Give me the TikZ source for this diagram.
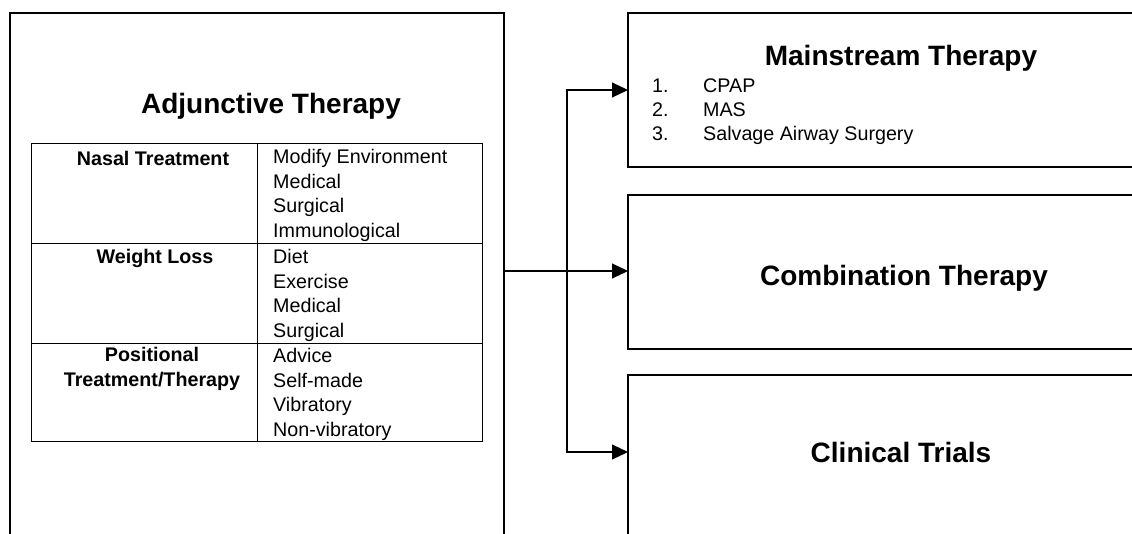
\documentclass[tikz,border=0pt]{standalone}
\usepackage{fontspec}
\setmainfont{Liberation Sans}
\usetikzlibrary{arrows.meta,positioning}

\tikzset{
  box/.style={draw, line width=2.4pt, inner sep=0pt, outer sep=0pt, anchor=north west},
  title/.style={font=\fontsize{28}{33}\selectfont\bfseries, inner sep=0pt, anchor=base},
  cell/.style={font=\fontsize{19.7}{24.4}\selectfont, inner sep=0pt, anchor=base west, align=left},
  head/.style={font=\fontsize{19.7}{24.4}\selectfont\bfseries, inner sep=0pt, anchor=base, align=center},
  grid/.style={line width=1pt},
  link/.style={line width=1.1pt, -{Triangle[length=16pt,width=15pt]}},
}

\begin{document}
\begin{tikzpicture}[x=1pt,y=-1pt]
  \useasboundingbox (0,0) rectangle (1132,533);
  \clip (0,0) rectangle (1132,533);

  % boxes, cut off by the page edge
  \node[box, minimum width=494pt, minimum height=600pt] (adjbox) at (10,13) {};
  \node[box, minimum width=548pt, minimum height=154pt] (mainbox) at (628,13) {};
  \node[box, minimum width=548pt, minimum height=154pt] (combbox) at (628,195) {};
  \node[box, minimum width=548pt, minimum height=200pt] (clinbox) at (628,375) {};

  % titles
  \node[title] (adjtitle) at (271,113) {Adjunctive Therapy};
  \node[title] (maintitle) at (901,65) {Mainstream Therapy};
  \node[title] (combtitle) at (904,285) {Combination Therapy};
  \node[title] (clintitle) at (901,462) {Clinical Trials};

  % multi-line nodes sit on the baseline of their last line
  \node[cell, font=\fontsize{19.7}{24}\selectfont] (mainlist) at (652,140) {\makebox[51pt][l]{1.}CPAP\\
    \makebox[51pt][l]{2.}MAS\\
    \makebox[51pt][l]{3.}Salvage Airway Surgery};

  % table
  \draw[grid] (31,143) rectangle (482,441);
  \draw[grid] (257,143) -- (257,441);
  \foreach \y in {243,343}
    \draw[grid] (31,\y) -- (482,\y);

  \node[head] (nasal) at (153,165) {Nasal Treatment};
  \node[head] (weight) at (155,263) {Weight Loss};
  \node[head] (position) at (152,386) {Positional\\Treatment/Therapy};

  \node[cell] (nasalitems) at (273,237) {Modify Environment\\Medical\\Surgical\\Immunological};
  \node[cell] (weightitems) at (273,337) {Diet\\Exercise\\Medical\\Surgical};
  \node[cell] (positems) at (273,436) {Advice\\Self-made\\Vibratory\\Non-vibratory};

  % arrows
  \coordinate (split) at (567,271);
  \draw[link] (split -| adjbox.east) -- (split -| combbox.west);
  \draw[link] (split) |- (mainbox.west);
  \draw[link] (split) |- ([yshift=-77pt]clinbox.north west);
\end{tikzpicture}
\end{document}
